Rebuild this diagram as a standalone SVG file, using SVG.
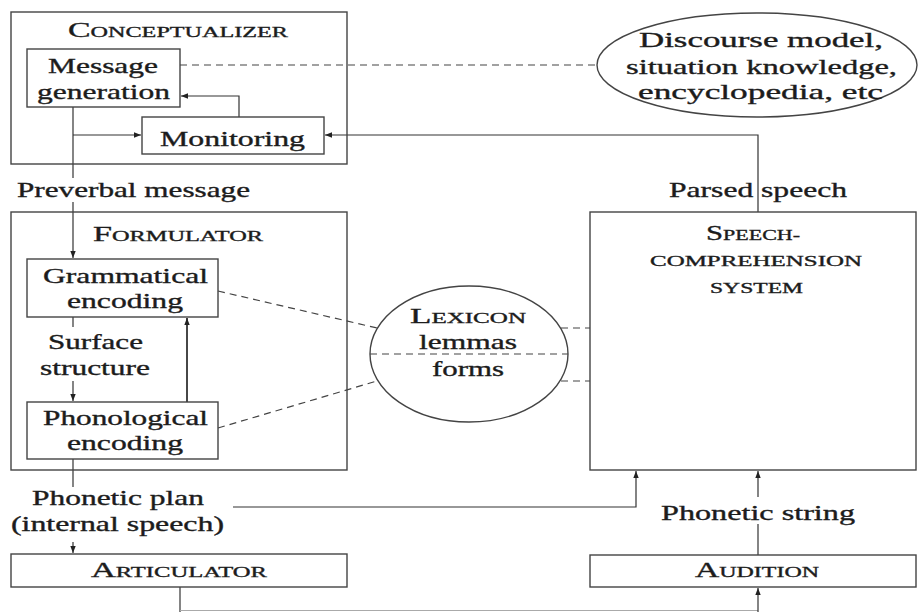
<svg xmlns="http://www.w3.org/2000/svg" width="918" height="612" viewBox="0 0 918 612">
<style>
  .box{fill:none;stroke:#444;stroke-width:1.4}
  .ln{fill:none;stroke:#333;stroke-width:1.2}
  .thick{stroke-width:1.8}
  .faint{stroke:#aaa}
  .dash{fill:none;stroke:#444;stroke-width:1.2;stroke-dasharray:7 5}
  .bg{fill:#fff;stroke:none}
  text{font-family:"Liberation Serif","Times New Roman",serif;font-size:21px;fill:#1c1c1c;stroke:#1c1c1c;stroke-width:0.35}
  .sc{font-size:15px}
</style>
<defs>
  <marker id="ah" markerUnits="userSpaceOnUse" markerWidth="8" markerHeight="6" refX="7" refY="3" orient="auto">
    <path d="M0,0.3 L7,3 L0,5.7 z" fill="#222"/>
  </marker>
</defs>
<rect width="918" height="612" fill="#fff"/>

<g id="connectors">
  <path class="ln" d="M73,107 V258" marker-end="url(#ah)"/>
  <path class="ln" d="M73,135 H141" marker-end="url(#ah)"/>
  <path class="ln" d="M239,117 V96 H181" marker-end="url(#ah)"/>
  <path class="ln" d="M758,212 V135 H325" marker-end="url(#ah)"/>
  <path class="dash" d="M180,65 H597"/>
  <path class="ln" d="M73,317 V401" marker-end="url(#ah)"/>
  <path class="ln thick" d="M187,402 V318" marker-end="url(#ah)"/>
  <path class="dash" d="M218,291 L377,328"/>
  <path class="dash" d="M218,428 L377,381"/>
  <path class="dash" d="M370,354 H568"/>
  <path class="dash" d="M561,328 H590"/>
  <path class="dash" d="M561,381 H590"/>
  <path class="ln" d="M73,459 V553" marker-end="url(#ah)"/>
  <path class="ln" d="M233,507 H636 V471" marker-end="url(#ah)"/>
  <path class="ln" d="M758,555 V471" marker-end="url(#ah)"/>
  <path class="ln" d="M180,587 V612"/>
  <path class="ln faint" d="M180,610.5 H758"/>
  <path class="ln" d="M758,612 V588" marker-end="url(#ah)"/>
</g>

<g id="label-preverbal">
  <rect class="bg" x="14" y="178" width="240" height="24"/>
  <text x="17" y="197" textLength="233" lengthAdjust="spacingAndGlyphs">Preverbal message</text>
</g>
<g id="label-surface">
  <rect class="bg" x="38" y="327" width="116" height="54"/>
  <text x="48" y="349" textLength="95" lengthAdjust="spacingAndGlyphs">Surface</text>
  <text x="40" y="375" textLength="110" lengthAdjust="spacingAndGlyphs">structure</text>
</g>
<g id="label-phonetic-plan">
  <rect class="bg" x="8" y="487" width="220" height="55"/>
  <text x="32" y="505" textLength="172" lengthAdjust="spacingAndGlyphs">Phonetic plan</text>
  <text x="11" y="531" textLength="213" lengthAdjust="spacingAndGlyphs">(internal speech)</text>
</g>
<g id="label-phonetic-string">
  <rect class="bg" x="657" y="497" width="202" height="27"/>
  <text x="661" y="520" textLength="194" lengthAdjust="spacingAndGlyphs">Phonetic string</text>
</g>
<g id="label-parsed">
  <rect class="bg" x="667" y="179" width="88" height="24"/>
  <rect class="bg" x="761" y="179" width="88" height="24"/>
  <text x="669" y="197" textLength="178" lengthAdjust="spacingAndGlyphs">Parsed speech</text>
</g>

<g id="conceptualizer">
  <rect class="box" x="11" y="12" width="336" height="152"/>
  <text x="68" y="37" textLength="220" lengthAdjust="spacingAndGlyphs">C<tspan class="sc">ONCEPTUALIZER</tspan></text>
</g>
<g id="message-generation">
  <rect class="box" x="27" y="49" width="153" height="58"/>
  <text x="48" y="73" textLength="110" lengthAdjust="spacingAndGlyphs">Message</text>
  <text x="37" y="99" textLength="133" lengthAdjust="spacingAndGlyphs">generation</text>
</g>
<g id="monitoring">
  <rect class="box" x="142" y="117" width="182" height="37"/>
  <text x="160" y="146" textLength="145" lengthAdjust="spacingAndGlyphs">Monitoring</text>
</g>
<g id="discourse-model">
  <ellipse class="box" cx="757" cy="65" rx="160" ry="52"/>
  <text x="639" y="47" textLength="244" lengthAdjust="spacingAndGlyphs">Discourse model,</text>
  <text x="626" y="74" textLength="271" lengthAdjust="spacingAndGlyphs">situation knowledge,</text>
  <text x="638" y="99" textLength="245" lengthAdjust="spacingAndGlyphs">encyclopedia, etc</text>
</g>
<g id="formulator">
  <rect class="box" x="11" y="212" width="336" height="258"/>
  <text x="93" y="241" textLength="170" lengthAdjust="spacingAndGlyphs">F<tspan class="sc">ORMULATOR</tspan></text>
</g>
<g id="grammatical-encoding">
  <rect class="box" x="27" y="259" width="191" height="58"/>
  <text x="43" y="283" textLength="165" lengthAdjust="spacingAndGlyphs">Grammatical</text>
  <text x="67" y="308" textLength="116" lengthAdjust="spacingAndGlyphs">encoding</text>
</g>
<g id="phonological-encoding">
  <rect class="box" x="27" y="402" width="191" height="57"/>
  <text x="43" y="425" textLength="165" lengthAdjust="spacingAndGlyphs">Phonological</text>
  <text x="67" y="450" textLength="116" lengthAdjust="spacingAndGlyphs">encoding</text>
</g>
<g id="lexicon">
  <ellipse class="box" cx="469" cy="354" rx="99" ry="68"/>
  <text x="410" y="323" textLength="116" lengthAdjust="spacingAndGlyphs">L<tspan class="sc">EXICON</tspan></text>
  <text x="419" y="349" textLength="98" lengthAdjust="spacingAndGlyphs">lemmas</text>
  <text x="432" y="376" textLength="72" lengthAdjust="spacingAndGlyphs">forms</text>
</g>
<g id="speech-comprehension">
  <rect class="box" x="590" y="212" width="326" height="258"/>
  <text x="706" y="240" textLength="94" lengthAdjust="spacingAndGlyphs">S<tspan class="sc">PEECH-</tspan></text>
  <text class="sc" x="650" y="266" textLength="212" lengthAdjust="spacingAndGlyphs">COMPREHENSION</text>
  <text class="sc" x="710" y="293" textLength="93" lengthAdjust="spacingAndGlyphs">SYSTEM</text>
</g>
<g id="articulator">
  <rect class="box" x="11" y="554" width="336" height="33"/>
  <text x="91" y="577" textLength="176" lengthAdjust="spacingAndGlyphs">A<tspan class="sc">RTICULATOR</tspan></text>
</g>
<g id="audition">
  <rect class="box" x="590" y="555" width="326" height="32"/>
  <text x="695" y="577" textLength="124" lengthAdjust="spacingAndGlyphs">A<tspan class="sc">UDITION</tspan></text>
</g>
</svg>
